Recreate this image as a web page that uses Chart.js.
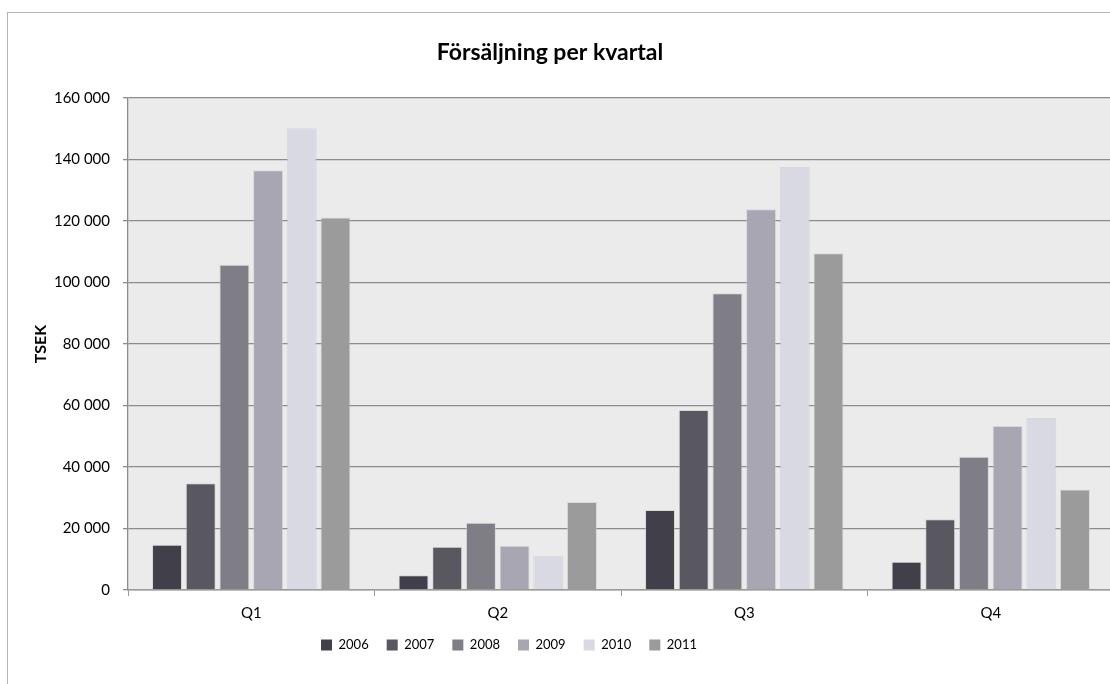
<!DOCTYPE html>
<html>
<head>
<meta charset="utf-8">
<script src="https://cdn.jsdelivr.net/npm/chart.js@4"></script>
<style>
  html, body { margin: 0; padding: 0; background: #ffffff; overflow: hidden; width: 1110px; height: 684px; }
  #frame { position: absolute; left: 7px; top: 12px; width: 1200px; height: 800px; border: 1px solid #b4b4b4; box-sizing: border-box; }
  #wrap { position: absolute; left: 0; top: 0; width: 1130px; height: 700px; }
</style>
</head>
<body>
<div id="frame"></div>
<div id="wrap"><canvas id="c" width="1130" height="700" style="width:1130px;height:700px"></canvas></div>
<script>
// ---- data ----
const categories = ['Q1', 'Q2', 'Q3', 'Q4'];
const years = ['2006', '2007', '2008', '2009', '2010', '2011'];
const sales2006 = [14700, 4800, 26000, 9200];
const sales2007 = [34700, 14100, 58500, 23000];
const sales2008 = [105800, 21900, 96500, 43300];
const sales2009 = [136500, 14400, 123800, 53300];
const sales2010 = [150200, 11100, 137600, 55900];
const sales2011 = [121100, 28600, 109500, 32700];
const yTicks = [0, 20000, 40000, 60000, 80000, 100000, 120000, 140000, 160000];
const chartTitle = 'Försäljning per kvartal';
const yTitle = 'TSEK';

const seriesValues = [sales2006, sales2007, sales2008, sales2009, sales2010, sales2011];
const colors = ['#41404a', '#595861', '#7f7e87', '#a7a6b2', '#d9d9e3', '#9b9b9b'];

const fmt = v => String(v).replace(/\B(?=(\d{3})+(?!\d))/g, ' ');

const bgPlugin = {
  id: 'plotBg',
  beforeDraw(chart) {
    const {ctx, chartArea: a} = chart;
    ctx.save();
    ctx.fillStyle = '#ebebeb';
    ctx.fillRect(a.left, a.top, a.right - a.left, a.bottom - a.top);
    ctx.restore();
  }
};
const shiftPlugin = {
  id: 'shiftBoxes',
  afterLayout(chart) {
    const lg = chart.legend;
    if (lg) { const dx = 509 - (lg.left + lg.right) / 2; lg.left += dx; lg.right += dx; }
    const tt = chart.titleBlock;
    if (tt) { const dx = 550 - (tt.left + tt.right) / 2; tt.left += dx; tt.right += dx; }
  }
};

Chart.defaults.font.family = 'Lato, "Open Sans", sans-serif';
Chart.defaults.color = '#000000';

new Chart(document.getElementById('c'), {
  type: 'bar',
  data: {
    labels: categories,
    datasets: years.map((y, i) => ({
      label: y,
      data: seriesValues[i],
      backgroundColor: colors[i],
      borderColor: 'rgba(200,200,200,0.55)',
      borderWidth: 1,
      categoryPercentage: 0.82,
      barPercentage: 0.89
    }))
  },
  options: {
    responsive: false,
    animation: false,
    devicePixelRatio: 1,
    layout: { padding: { top: 0, left: 0, right: 16, bottom: 38.5 } },
    plugins: {
      title: {
        display: true,
        text: chartTitle,
        font: { size: 23, weight: 'bold' },
        color: '#000',
        padding: { top: 38.5, bottom: 31.9 }
      },
      legend: {
        position: 'bottom',
        labels: {
          boxWidth: 11,
          boxHeight: 11,
          padding: 18,
          font: { size: 13 },
          color: '#000',
          generateLabels: chart => Chart.defaults.plugins.legend.labels.generateLabels(chart).map(l => ({...l, lineWidth: 0}))
        }
      },
      tooltip: { enabled: false }
    },
    scales: {
      x: {
        grid: { display: true, drawOnChartArea: false, drawTicks: true, tickLength: 6, offset: true, color: '#9a9a9a' },
        border: { color: '#9a9a9a', width: 1.5 },
        ticks: { font: { size: 15 }, color: '#000', padding: 8 },
        afterFit(s) { s.height = 30.5; }
      },
      y: {
        min: 0,
        max: 160000,
        afterBuildTicks(s) { s.ticks = yTicks.map(v => ({ value: v })); },
        grid: { color: '#8c8c8c', lineWidth: 1.3, tickLength: 5, drawTicks: true },
        border: { color: '#8c8c8c', width: 1.3 },
        ticks: { font: { size: 15 }, color: '#000', padding: 13, callback: v => fmt(v) },
        title: { display: true, text: yTitle, font: { size: 16, weight: 'bold' }, color: '#000', padding: { top: 31, bottom: 0 } },
        afterFit(s) { s.width = 128; }
      }
    }
  },
  plugins: [bgPlugin, shiftPlugin]
});
</script>
</body>
</html>
